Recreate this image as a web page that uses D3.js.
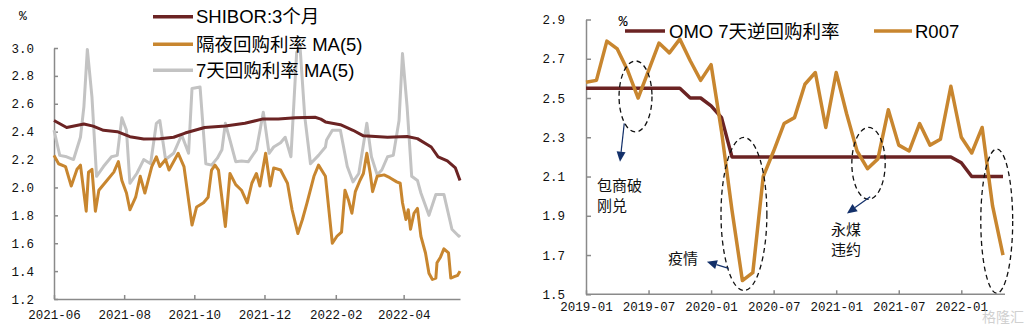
<!DOCTYPE html>
<html><head><meta charset="utf-8">
<script src="https://cdn.jsdelivr.net/npm/d3@7"></script>
<style>body{margin:0;background:#fff;} svg{display:block}</style>
</head><body>
<svg id="c" width="1025" height="329"></svg>
<script>
// ---------------- LEFT CHART DATA ----------------
const shiborDates = ["2021-06-01","2021-06-12","2021-06-27","2021-07-05","2021-07-14","2021-07-26","2021-08-06","2021-08-18","2021-09-01","2021-09-13","2021-09-23","2021-10-10","2021-10-28","2021-11-14","2021-11-29","2021-12-13","2021-12-28","2022-01-14","2022-01-19","2022-01-23","2022-02-05","2022-02-16","2022-02-25","2022-03-18","2022-04-04","2022-04-13","2022-04-25","2022-05-01","2022-05-09","2022-05-16","2022-05-20"];
const shiborValues = [2.48,2.43,2.455,2.44,2.41,2.40,2.364,2.348,2.35,2.36,2.39,2.43,2.44,2.46,2.49,2.49,2.50,2.503,2.49,2.47,2.45,2.41,2.37,2.36,2.365,2.35,2.29,2.22,2.19,2.14,2.05];

const repo7Dates = ["2021-06-01","2021-06-06","2021-06-12","2021-06-18","2021-06-24","2021-06-27","2021-06-30","2021-07-04","2021-07-08","2021-07-14","2021-07-21","2021-07-26","2021-07-30","2021-08-03","2021-08-06","2021-08-12","2021-08-18","2021-08-24","2021-08-29","2021-09-01","2021-09-06","2021-09-13","2021-09-20","2021-09-24","2021-09-26","2021-09-29","2021-10-06","2021-10-11","2021-10-16","2021-10-21","2021-10-25","2021-10-28","2021-11-01","2021-11-06","2021-11-11","2021-11-17","2021-11-24","2021-11-30","2021-12-05","2021-12-09","2021-12-15","2021-12-19","2021-12-24","2021-12-29","2022-01-01","2022-01-05","2022-01-10","2022-01-17","2022-01-23","2022-01-24","2022-01-29","2022-02-05","2022-02-11","2022-02-16","2022-02-21","2022-02-28","2022-03-04","2022-03-09","2022-03-13","2022-03-18","2022-03-23","2022-03-28","2022-03-31","2022-04-04","2022-04-08","2022-04-13","2022-04-16","2022-04-23","2022-04-29","2022-05-06","2022-05-13","2022-05-19","2022-05-20"];
const repo7Values = [2.41,2.23,2.22,2.20,2.36,2.58,2.99,2.65,2.08,2.15,2.22,2.23,2.50,2.41,2.03,2.10,2.20,2.17,2.46,2.48,2.20,2.245,2.376,2.29,2.245,2.71,2.72,2.17,2.16,2.21,2.27,2.46,2.34,2.185,2.19,2.185,2.27,2.54,2.245,2.29,2.32,2.36,2.22,2.97,3.00,2.51,2.17,2.23,2.29,2.34,2.41,2.41,2.15,2.04,2.10,2.46,2.22,2.09,2.125,2.22,2.23,2.48,2.96,2.58,2.08,2.05,1.96,1.80,1.95,1.95,1.70,1.65,1.66];

const overnightDates = ["2021-06-01","2021-06-05","2021-06-11","2021-06-16","2021-06-21","2021-06-24","2021-06-29","2021-07-01","2021-07-04","2021-07-07","2021-07-10","2021-07-17","2021-07-23","2021-07-27","2021-07-30","2021-08-03","2021-08-06","2021-08-11","2021-08-15","2021-08-19","2021-08-25","2021-08-29","2021-09-01","2021-09-06","2021-09-09","2021-09-17","2021-09-22","2021-09-29","2021-10-03","2021-10-09","2021-10-13","2021-10-16","2021-10-19","2021-10-22","2021-10-28","2021-11-01","2021-11-06","2021-11-11","2021-11-16","2021-11-20","2021-11-24","2021-11-27","2021-12-02","2021-12-06","2021-12-09","2021-12-15","2021-12-21","2021-12-25","2021-12-30","2022-01-03","2022-01-07","2022-01-13","2022-01-17","2022-01-23","2022-01-29","2022-02-02","2022-02-06","2022-02-09","2022-02-12","2022-02-15","2022-02-18","2022-02-22","2022-02-25","2022-02-28","2022-03-03","2022-03-05","2022-03-09","2022-03-15","2022-03-20","2022-03-26","2022-03-29","2022-03-31","2022-04-03","2022-04-05","2022-04-07","2022-04-10","2022-04-13","2022-04-16","2022-04-20","2022-04-23","2022-04-26","2022-04-29","2022-04-30","2022-05-03","2022-05-06","2022-05-10","2022-05-12","2022-05-15","2022-05-18","2022-05-20"];
const overnightValues = [2.23,2.17,2.15,2.01,2.13,2.16,1.83,2.11,2.13,1.83,1.98,2.05,2.11,2.185,2.05,1.96,1.84,1.93,2.08,1.96,2.15,2.22,2.15,2.20,2.125,2.245,2.15,1.73,1.86,1.89,1.93,2.125,2.16,2.125,1.72,2.10,2.02,1.98,1.89,2.03,2.10,2.01,2.245,2.01,2.14,2.125,2.03,1.84,1.67,1.77,1.89,2.08,2.16,2.08,1.60,1.65,1.68,1.98,1.91,1.815,1.97,2.05,2.10,2.245,2.10,1.97,2.08,2.09,2.07,2.04,2.03,1.89,1.77,1.84,1.70,1.815,1.85,1.65,1.53,1.385,1.34,1.35,1.46,1.50,1.56,1.53,1.35,1.36,1.37,1.40];

const leftYTicks = [1.2,1.4,1.6,1.8,2.0,2.2,2.4,2.6,2.8,3.0];
const leftXTicks = ["2021-06-01","2021-08-01","2021-10-01","2021-12-01","2022-02-01","2022-04-01"];
const leftLegend = ["SHIBOR:3个月","隔夜回购利率 MA(5)","7天回购利率 MA(5)"];

// ---------------- RIGHT CHART DATA ----------------
const months = ["2019-01","2019-02","2019-03","2019-04","2019-05","2019-06","2019-07","2019-08","2019-09","2019-10","2019-11","2019-12","2020-01","2020-02","2020-03","2020-04","2020-05","2020-06","2020-07","2020-08","2020-09","2020-10","2020-11","2020-12","2021-01","2021-02","2021-03","2021-04","2021-05","2021-06","2021-07","2021-08","2021-09","2021-10","2021-11","2021-12","2022-01","2022-02","2022-03","2022-04","2022-05"];
const omoValues = [2.55,2.55,2.55,2.55,2.55,2.55,2.55,2.55,2.55,2.55,2.50,2.50,2.46,2.40,2.20,2.20,2.20,2.20,2.20,2.20,2.20,2.20,2.20,2.20,2.20,2.20,2.20,2.20,2.20,2.20,2.20,2.20,2.20,2.20,2.20,2.20,2.17,2.10,2.10,2.10,2.10];
const r007Values = [2.58,2.59,2.79,2.75,2.64,2.50,2.64,2.78,2.73,2.80,2.69,2.59,2.67,2.33,1.93,1.57,1.61,2.10,2.23,2.37,2.40,2.57,2.63,2.35,2.63,2.42,2.23,2.14,2.19,2.44,2.26,2.23,2.37,2.26,2.29,2.56,2.30,2.22,2.35,1.95,1.70];
const rightYTicks = [1.5,1.7,1.9,2.1,2.3,2.5,2.7,2.9];
const rightXTickIdx = [0,6,12,18,24,30,36];
const rightLegend = ["OMO 7天逆回购利率","R007"];

// annotations in data units: [monthIndex, value, rxMonths, ryValue]
const ellipses = [[4.75,2.508,1.58,0.181],[15.15,1.909,2.2,0.39],[27.1,2.167,1.6,0.183],[39.4,1.873,1.53,0.367]];
const arrows = [[3.67,2.371,3.26,2.175],[13.68,1.632,11.6,1.666],[27.26,1.997,25.03,1.912]];
const notes = [{i:1.05,v:2.057,t:"包商破"},{i:1.05,v:1.958,t:"刚兑"},{i:7.86,v:1.685,t:"疫情"},{i:23.5,v:1.833,t:"永煤"},{i:23.5,v:1.735,t:"违约"}];

// ---------------- STYLE ----------------
const cMaroon = "#6b2323", cOrange = "#c8862f", cGrey = "#c3c3c3", cAxis = "#8a8a8a", cNavy = "#13306a";
const tickFont = "'Liberation Mono','DejaVu Sans Mono',monospace";
const legFont = "'Liberation Sans','Noto Sans CJK SC',sans-serif";
const cjkFont = "'Noto Sans CJK SC',sans-serif";

const svg = d3.select("#c");
const parse = d3.timeParse("%Y-%m-%d");

function styleAxis(g){
  g.select(".domain").attr("stroke", cAxis).attr("stroke-width", 1.5);
  g.selectAll(".tick line").attr("stroke", cAxis).attr("stroke-width", 1.5);
  g.selectAll(".tick text").attr("fill","#111").style("font-family", tickFont).style("font-size","12.5px");
}

// ---------------- LEFT ----------------
const xL = d3.scaleTime().domain([parse("2021-06-01"), parse("2022-05-20")]).range([54,460]);
const yL = d3.scaleLinear().domain([1.2,3.0]).range([299,48]);

const gLY = svg.append("g").attr("transform","translate(54,0)")
  .call(d3.axisLeft(yL).tickValues(leftYTicks).tickSize(-4).tickSizeOuter(0).tickPadding(20).tickFormat(d3.format(".1f")));
styleAxis(gLY);
const gLX = svg.append("g").attr("transform","translate(0,299)")
  .call(d3.axisBottom(xL).tickValues(leftXTicks.map(parse)).tickSize(-4).tickSizeOuter(0).tickPadding(11).tickFormat(d3.timeFormat("%Y-%m")));
styleAxis(gLX);

const lineL = (dates, vals) => d3.line().x((d,i)=>xL(parse(dates[i]))).y(d=>yL(d))(vals);
svg.append("path").attr("d", lineL(repo7Dates, repo7Values)).attr("fill","none").attr("stroke",cGrey).attr("stroke-width",3).attr("stroke-linejoin","round");
svg.append("path").attr("d", lineL(overnightDates, overnightValues)).attr("fill","none").attr("stroke",cOrange).attr("stroke-width",3).attr("stroke-linejoin","round");
svg.append("path").attr("d", lineL(shiborDates, shiborValues)).attr("fill","none").attr("stroke",cMaroon).attr("stroke-width",3).attr("stroke-linejoin","round");

svg.append("text").attr("x",23).attr("y",16).attr("text-anchor","middle").attr("dominant-baseline","central")
  .style("font-family",tickFont).style("font-size","13px").text("%");
const legColorsL = [cMaroon, cOrange, cGrey];
const legYL = [16.7, 44.3, 70.3];
leftLegend.forEach((t,k)=>{
  svg.append("line").attr("x1",153).attr("x2",193).attr("y1",legYL[k]).attr("y2",legYL[k]).attr("stroke",legColorsL[k]).attr("stroke-width",3.5);
  svg.append("text").attr("x",196).attr("y",legYL[k]).attr("dominant-baseline","central")
    .style("font-family",legFont).style("font-size","18.5px").attr("fill","#000").text(t);
});

// ---------------- RIGHT ----------------
const xR = d3.scaleLinear().domain([0,40]).range([586,1003]);
const yR = d3.scaleLinear().domain([1.5,2.9]).range([294.3,19.5]);

const gRY = svg.append("g").attr("transform","translate(586,0)")
  .call(d3.axisLeft(yR).tickValues(rightYTicks).tickSize(-5).tickSizeOuter(0).tickPadding(21).tickFormat(d3.format(".1f")));
styleAxis(gRY);
const gRX = svg.append("g").attr("transform","translate(0,294.3)")
  .call(d3.axisBottom(xR).tickValues(rightXTickIdx).tickSize(-4).tickSizeOuter(0).tickPadding(8).tickFormat(i=>months[i]));
styleAxis(gRX);
gRX.select(".domain").attr("d","M586,0H1005");

const lineR = d3.line().x((d,i)=>xR(i)).y(d=>yR(d));
svg.append("path").attr("d", lineR(omoValues)).attr("fill","none").attr("stroke",cMaroon).attr("stroke-width",3.5).attr("stroke-linejoin","round");
svg.append("path").attr("d", lineR(r007Values)).attr("fill","none").attr("stroke",cOrange).attr("stroke-width",3.5).attr("stroke-linejoin","round");

// legend
svg.append("text").attr("x",623).attr("y",22).attr("text-anchor","middle").attr("dominant-baseline","central")
  .style("font-family",tickFont).style("font-size","15px").text("%");
svg.append("line").attr("x1",625).attr("x2",665).attr("y1",31).attr("y2",31).attr("stroke",cMaroon).attr("stroke-width",3.5);
svg.append("text").attr("x",669).attr("y",31).attr("dominant-baseline","central").style("font-family",legFont).style("font-size","18.5px").text(rightLegend[0]);
svg.append("line").attr("x1",874).attr("x2",912).attr("y1",31).attr("y2",31).attr("stroke",cOrange).attr("stroke-width",3.5);
svg.append("text").attr("x",915).attr("y",31).attr("dominant-baseline","central").style("font-family",legFont).style("font-size","18.5px").text(rightLegend[1]);

// ellipses
const pxPerIdx = xR(1)-xR(0);
const pxPerVal = yR(1.5)-yR(2.5);
ellipses.forEach(e=>{
  svg.append("ellipse").attr("cx",xR(e[0])).attr("cy",yR(e[1])).attr("rx",e[2]*pxPerIdx).attr("ry",e[3]*pxPerVal)
    .attr("fill","none").attr("stroke","#111").attr("stroke-width",1.3).attr("stroke-dasharray","5,3.5");
});
// arrows
arrows.forEach(a=>{
  const x1=xR(a[0]), y1=yR(a[1]), x2=xR(a[2]), y2=yR(a[3]);
  const dx=x2-x1, dy=y2-y1, L=Math.hypot(dx,dy), ux=dx/L, uy=dy/L;
  const hl=10, hw=4.5;
  const bx=x2-ux*hl, by=y2-uy*hl;
  svg.append("line").attr("x1",x1).attr("y1",y1).attr("x2",bx).attr("y2",by).attr("stroke",cNavy).attr("stroke-width",1.2);
  svg.append("path").attr("d",`M${x2},${y2}L${bx-uy*hw},${by+ux*hw}L${bx+uy*hw},${by-ux*hw}Z`).attr("fill",cNavy);
});
notes.forEach(n=>{
  svg.append("text").attr("x",xR(n.i)).attr("y",yR(n.v)).attr("dominant-baseline","central")
    .style("font-family",cjkFont).style("font-size","15px").attr("fill","#111").text(n.t);
});

// watermark
svg.append("text").attr("x",982).attr("y",316).attr("dominant-baseline","central").style("font-family",cjkFont).style("font-size","14px").attr("fill","#d0d0d0").text("格隆汇");
</script>
</body></html>
